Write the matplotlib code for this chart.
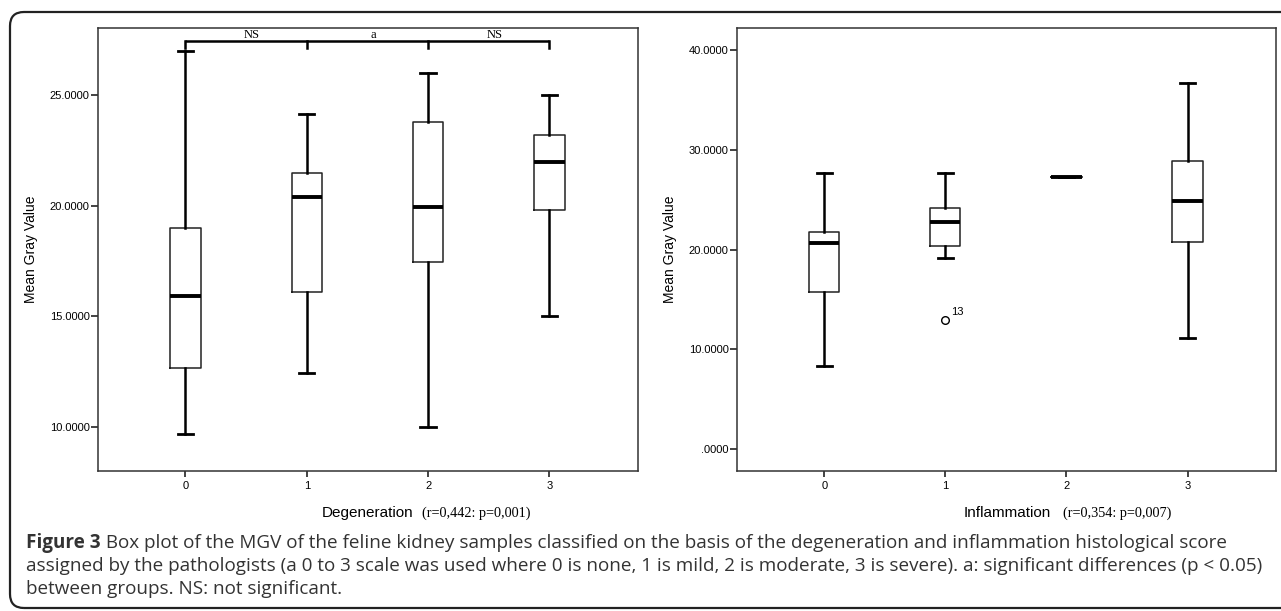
import matplotlib
matplotlib.use('Agg')
import matplotlib.pyplot as plt
import matplotlib.patches as mpatches
from matplotlib.transforms import IdentityTransform

# data
groups = [0, 1, 2, 3]

deg_whislo = [9.68, 12.45, 10.0, 15.03]
deg_q1 = [12.64, 16.1, 17.47, 19.82]
deg_med = [15.9, 20.41, 19.94, 22.0]
deg_q3 = [19.02, 21.5, 23.78, 23.22]
deg_whishi = [27.0, 24.18, 26.0, 25.03]

inf_whislo = [8.28, 19.13, 27.26, 11.14]
inf_q1 = [15.72, 20.33, 27.26, 20.77]
inf_med = [20.67, 22.74, 27.26, 24.88]
inf_q3 = [21.74, 24.15, 27.26, 28.86]
inf_whishi = [27.66, 27.7, 27.26, 36.7]
inf_fliers = [[], [12.9], [], []]
outlier_label = "13"

deg_yticks = [10, 15, 20, 25]
deg_yticklabels = ["10.0000", "15.0000", "20.0000", "25.0000"]
inf_yticks = [0, 10, 20, 30, 40]
inf_yticklabels = [".0000", "10.0000", "20.0000", "30.0000", "40.0000"]

bracket_labels = ["NS", "a", "NS"]

caption_bold = "Figure 3"
caption_lines = [
    " Box plot of the MGV of the feline kidney samples classified on the basis of the degeneration and inflammation histological score",
    "assigned by the pathologists (a 0 to 3 scale was used where 0 is none, 1 is mild, 2 is moderate, 3 is severe). a: significant differences (p < 0.05)",
    "between groups. NS: not significant.",
]

sans = 'Liberation Sans'
serif = 'Liberation Serif'
cap_font = 'Open Sans'
cap_color = '#333333'

W, H = 1281, 611
fig = plt.figure(figsize=(W / 100, H / 100), dpi=100)

# rounded frame round the figure
frame = mpatches.FancyBboxPatch((10, 3), 1400, H - 12 - 3,
                                boxstyle="round,pad=0,rounding_size=14",
                                transform=IdentityTransform(), fill=False,
                                edgecolor='#222222', linewidth=1.6)
fig.add_artist(frame)


def make_stats(lo, q1, med, q3, hi, fliers=None):
    out = []
    for i in range(len(lo)):
        out.append(dict(whislo=lo[i], q1=q1[i], med=med[i], q3=q3[i], whishi=hi[i],
                        fliers=(fliers[i] if fliers else [])))
    return out


def draw_panel(ax, stats, yticks, yticklabels, ylim, name, stat_text, name_x, stat_x):
    ax.bxp(stats, positions=groups, widths=0.25, capwidths=0.125,
           boxprops=dict(color='#222222', linewidth=1.1),
           whiskerprops=dict(color='black', linewidth=1.8),
           capprops=dict(color='black', linewidth=2.0),
           medianprops=dict(color='black', linewidth=2.8),
           flierprops=dict(marker='o', markerfacecolor='white', markeredgecolor='black',
                           markersize=5.5, markeredgewidth=1.0))
    ax.set_xlim(-0.72, 3.73)
    ax.set_ylim(*ylim)
    ax.set_yticks(yticks)
    ax.set_yticklabels(yticklabels, fontsize=8, family=sans)
    ax.set_xticks(groups)
    ax.set_xticklabels([str(g) for g in groups], fontsize=8, family=sans)
    ax.tick_params(axis='y', length=5, width=1.2, color='#222222', pad=1)
    ax.tick_params(axis='x', length=4, width=1.2, color='#222222', pad=3)
    for s in ax.spines.values():
        s.set_color('#333333')
        s.set_linewidth(1.1)
    ax.set_ylabel("Mean Gray Value", fontsize=10, family=sans)
    ax.yaxis.set_label_coords(-0.112, 0.5)
    ax.text(name_x, -0.095, name, transform=ax.transAxes, fontsize=11,
            family=sans, ha='left', va='center')
    ax.text(stat_x, -0.095, stat_text, transform=ax.transAxes, fontsize=10.3,
            family=serif, ha='left', va='center')


ax1 = fig.add_axes([98 / W, 1 - 471 / H, 540 / W, 443 / H])
draw_panel(ax1, make_stats(deg_whislo, deg_q1, deg_med, deg_q3, deg_whishi),
           deg_yticks, deg_yticklabels, (8.0, 28.05),
           "Degeneration", "(r=0,442: p=0,001)", 0.415, 0.600)

# significance bracket
yb = 27.45
ax1.plot([groups[0], groups[-1]], [yb, yb], color='black', linewidth=1.8,
         solid_capstyle='butt', clip_on=False)
for g in groups:
    ax1.plot([g, g], [yb, yb - 0.32], color='black', linewidth=1.8, clip_on=False)
for i, lab in enumerate(bracket_labels):
    ax1.text((groups[i] + groups[i + 1]) / 2 + 0.05, yb + 0.03, lab, fontsize=9,
             family=serif, ha='center', va='bottom')

ax2 = fig.add_axes([737 / W, 1 - 471 / H, 539 / W, 443 / H])
draw_panel(ax2, make_stats(inf_whislo, inf_q1, inf_med, inf_q3, inf_whishi, inf_fliers),
           inf_yticks, inf_yticklabels, (-2.2, 42.2),
           "Inflammation", "(r=0,354: p=0,007)", 0.421, 0.605)
for i, fl in enumerate(inf_fliers):
    for v in fl:
        ax2.annotate(outlier_label, (groups[i], v), xytext=(4, 4),
                     textcoords='offset points', fontsize=8, family=sans)

# caption, font size fitted to the width of the second line
renderer = fig.canvas.get_renderer()
x0 = 26 / W
fs = 10.5
probe = fig.text(x0, 0.5, caption_lines[1], fontsize=fs, family=cap_font)
wpx = probe.get_window_extent(renderer).width
probe.remove()
fs = fs * 1242 / wpx

ys = [543, 566, 589]
t = fig.text(x0, 1 - ys[0] / H, caption_bold, fontsize=fs, family=cap_font,
             weight='bold', va='center', ha='left', color=cap_color)
bb = t.get_window_extent(renderer)
fig.text(bb.x1 / W, 1 - ys[0] / H, caption_lines[0], fontsize=fs, family=cap_font,
         va='center', ha='left', color=cap_color)
fig.text(x0, 1 - ys[1] / H, caption_lines[1], fontsize=fs, family=cap_font,
         va='center', ha='left', color=cap_color)
fig.text(x0, 1 - ys[2] / H, caption_lines[2], fontsize=fs, family=cap_font,
         va='center', ha='left', color=cap_color)

plt.savefig('out.png', dpi=100)
